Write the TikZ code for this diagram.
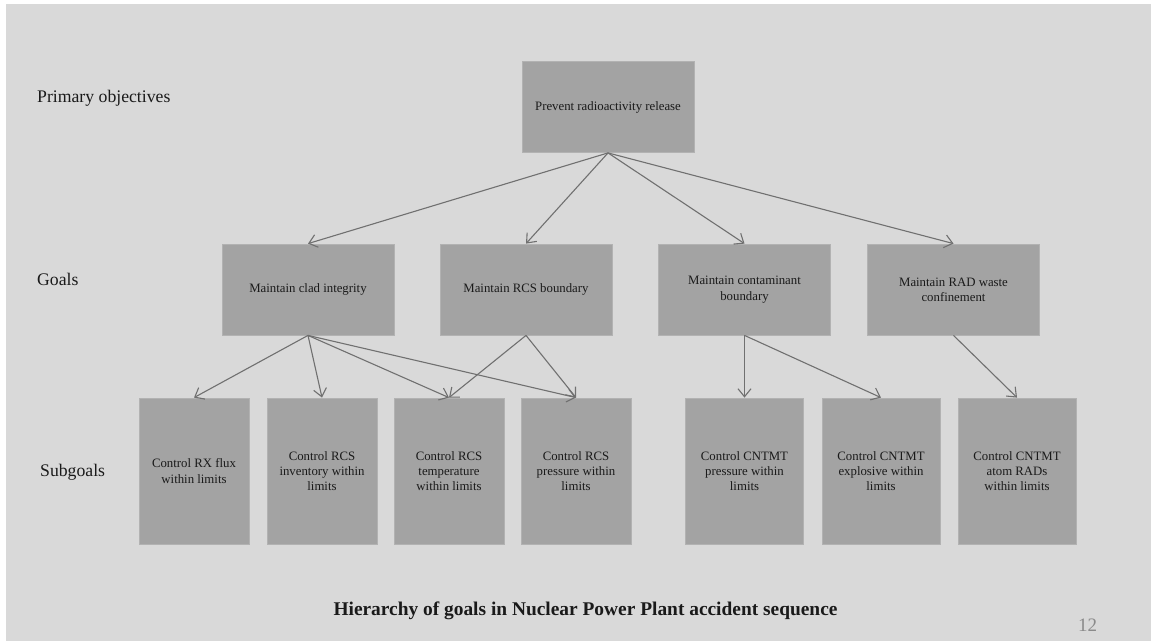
\documentclass[tikz,border=0pt]{standalone}
\usepackage{fontspec}
\setmainfont{Liberation Serif}
\usetikzlibrary{arrows.meta}
\definecolor{slidebg}{HTML}{D9D9D9}
\definecolor{boxfill}{HTML}{A3A3A3}
\definecolor{boxline}{HTML}{B2B2B2}
\definecolor{arrowc}{HTML}{707070}
\definecolor{txt}{HTML}{1A1A1A}
\definecolor{pagenum}{HTML}{8A8A8A}
\tikzset{
  box/.style={draw=boxline, line width=0.8pt, fill=boxfill, inner sep=0pt, align=center,
    text=txt, font=\fontsize{12.8}{15.3}\selectfont},
  goalbox/.style={box, minimum width=172pt, minimum height=91pt},
  subbox/.style={box, minimum height=146pt},
  lvl/.style={anchor=base west, inner sep=0pt, text=txt, font=\fontsize{17.7}{21}\selectfont},
  conn/.style={draw=arrowc, line width=1.1pt, -{Straight Barb[length=8pt,width=13pt,line width=1.1pt]}}
}
\begin{document}
\begin{tikzpicture}[x=1pt,y=-1pt]
\useasboundingbox (0,0) rectangle (1151,641);
\fill[white] (0,0) rectangle (1151,641);
\fill[slidebg] (6,4) rectangle (1151,641);

\node[lvl] (lp) at (37,102.3) {Primary objectives};
\node[lvl] (lg) at (37,285.7) {Goals};
\node[lvl] (ls) at (40,476.7) {Subgoals};

\node[goalbox] (top) at (608,107) {Prevent radioactivity release};

\node[goalbox] (g1) at (308,289.5) {Maintain clad integrity};
\node[goalbox] (g2) at (526,289.5) {Maintain RCS boundary};
\node[goalbox] (g3) at (744.5,289.5) {Maintain contaminant\\boundary};
\node[goalbox] (g4) at (953.5,289.5) {Maintain RAD waste\\confinement};

\node[subbox, minimum width=110pt] (s1) at (194,471) {Control RX flux\\within limits};
\node[subbox, minimum width=110pt] (s2) at (322,471) {Control RCS\\inventory within\\limits};
\node[subbox, minimum width=110pt] (s3) at (449,471) {Control RCS\\temperature\\within limits};
\node[subbox, minimum width=110pt] (s4) at (576,471) {Control RCS\\pressure within\\limits};
\node[subbox, minimum width=118pt] (s5) at (744.5,471) {Control CNTMT\\pressure within\\limits};
\node[subbox, minimum width=118pt] (s6) at (881,471) {Control CNTMT\\explosive within\\limits};
\node[subbox, minimum width=118pt] (s7) at (1017,471) {Control CNTMT\\atom RADs\\within limits};

\draw[conn] (top.south) -- (g1.north);
\draw[conn] (top.south) -- (g2.north);
\draw[conn] (top.south) -- (g3.north);
\draw[conn] (top.south) -- (g4.north);

\draw[conn] (g1.south) -- (s1.north);
\draw[conn] (g1.south) -- (s2.north);
\draw[conn] (g1.south) -- (s3.north);
\draw[conn] (g1.south) -- (s4.north);
\draw[conn] (g2.south) -- (s3.north);
\draw[conn] (g2.south) -- (s4.north);
\draw[conn] (g3.south) -- (s5.north);
\draw[conn] (g3.south) -- (s6.north);
\draw[conn] (g4.south) -- (s7.north);

\node[anchor=base, inner sep=0pt, text=txt, font=\fontsize{19.4}{23}\selectfont\bfseries] (title) at (585.5,615) {Hierarchy of goals in Nuclear Power Plant accident sequence};
\node[anchor=base west, inner sep=0pt, text=pagenum, font=\fontsize{19}{23}\selectfont] (pg) at (1078,631) {12};
\end{tikzpicture}
\end{document}
